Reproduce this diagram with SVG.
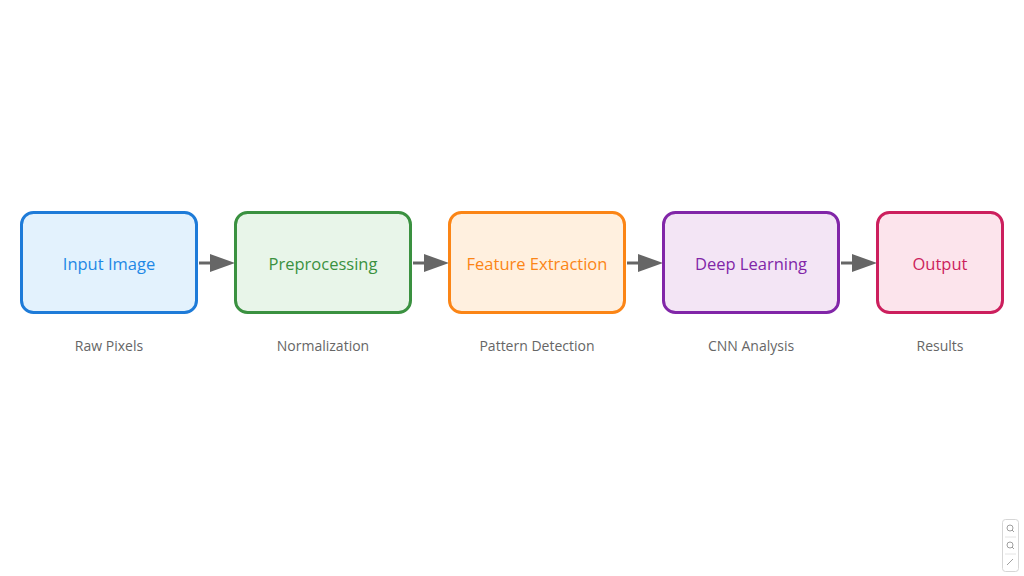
<svg xmlns="http://www.w3.org/2000/svg" width="1024" height="576" viewBox="0 0 1024 576">
<defs>
<style>
.box{stroke-width:3}
.lbl{font-family:"Open Sans","Noto Sans",sans-serif;font-size:16.5px;text-anchor:middle;dominant-baseline:central}
.sub{font-family:"Open Sans","Noto Sans",sans-serif;font-size:14px;fill:#666;text-anchor:middle;dominant-baseline:central}
.conn{stroke:#666;stroke-width:3;fill:none}
.head{fill:#666}
</style>
</defs>
<rect width="1024" height="576" fill="#fff"/>
<g id="connectors">
<line class="conn" x1="199" y1="263" x2="212" y2="263"/><path class="head" d="M210,254 L235,263 L210,272 z"/>
<line class="conn" x1="413" y1="263" x2="426" y2="263"/><path class="head" d="M424,254 L449,263 L424,272 z"/>
<line class="conn" x1="627" y1="263" x2="640" y2="263"/><path class="head" d="M638,254 L663,263 L638,272 z"/>
<line class="conn" x1="841" y1="263" x2="854" y2="263"/><path class="head" d="M852,254 L877,263 L852,272 z"/>
</g>
<g id="input">
<rect class="box" x="21.5" y="212.5" width="175" height="100" rx="12" fill="#E3F2FD" stroke="#1E7BD8"/>
<text class="lbl" x="109" y="263" fill="#1E88E5">Input Image</text>
<text class="sub" x="109" y="345">Raw Pixels</text>
</g>
<g id="preprocessing">
<rect class="box" x="235.5" y="212.5" width="175" height="100" rx="12" fill="#E8F5E9" stroke="#3A9140"/>
<text class="lbl" x="323" y="263" fill="#3A9140">Preprocessing</text>
<text class="sub" x="323" y="345">Normalization</text>
</g>
<g id="feature">
<rect class="box" x="449.5" y="212.5" width="175" height="100" rx="12" fill="#FFF0DF" stroke="#FB8516"/>
<text class="lbl" x="537" y="263" fill="#FB8516">Feature Extraction</text>
<text class="sub" x="537" y="345">Pattern Detection</text>
</g>
<g id="deep">
<rect class="box" x="663.5" y="212.5" width="175" height="100" rx="12" fill="#F3E5F5" stroke="#8126A8"/>
<text class="lbl" x="751" y="263" fill="#8126A8">Deep Learning</text>
<text class="sub" x="751" y="345">CNN Analysis</text>
</g>
<g id="output">
<rect class="box" x="877.5" y="212.5" width="125" height="100" rx="12" fill="#FCE4EC" stroke="#CC1F5D"/>
<text class="lbl" x="940" y="263" fill="#CC1F5D">Output</text>
<text class="sub" x="940" y="345">Results</text>
</g>
<g id="zoom-controls" fill="none" stroke="#888" stroke-width="0.8">
<rect x="1002.5" y="519.5" width="16" height="52" rx="3" stroke="#ccc" fill="#fff"/>
<circle cx="1010" cy="528" r="3"/><line x1="1012" y1="530" x2="1014" y2="532"/>
<line x1="1005" y1="537" x2="1016" y2="537" stroke="#ddd"/>
<circle cx="1010" cy="545" r="3"/><line x1="1012" y1="547" x2="1014" y2="549"/>
<line x1="1005" y1="554" x2="1016" y2="554" stroke="#ddd"/>
<line x1="1007" y1="565" x2="1013" y2="559"/>
</g>
</svg>
